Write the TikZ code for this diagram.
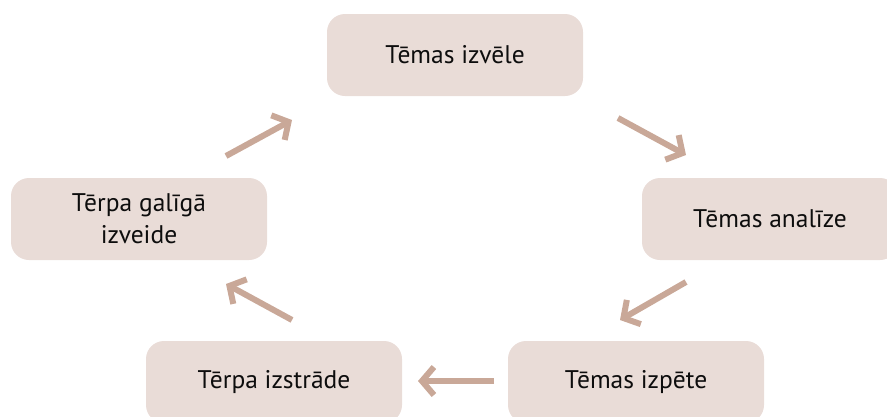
\documentclass[tikz,border=0pt]{standalone}
\usepackage{fontspec}
\setmainfont{PT Sans}
\usetikzlibrary{arrows.meta}
\definecolor{boxfill}{HTML}{E9DCD7}
\definecolor{arrowcol}{HTML}{C9A898}
\tikzset{%
  stage/.style={fill=boxfill, rounded corners=18pt, minimum width=256pt,
                minimum height=82pt, align=center, text=black!95,
                font=\fontsize{25.5}{32}\selectfont},
  flow/.style={draw=arrowcol, line width=6pt,
               -{Straight Barb[length=12pt,width=28pt]}},
}

\begin{document}
\begin{tikzpicture}[x=1pt,y=-1pt]
              \useasboundingbox (0,0) rectangle (887,416);
              \node[stage] (izvele)   at (455,55)  {Tēmas izvēle};
              \node[stage] (analize)  at (770,219) {Tēmas analīze};
              \node[stage] (izpete)   at (636,382) {Tēmas izpēte};
              \node[stage] (izstrade) at (274,382) {Tērpa izstrāde};
              \node[stage] (izveide)  at (139,219) {Tērpa galīgā\\izveide};
              \coordinate (a1) at (618,118);
              \coordinate (b1) at (686,155);
              \coordinate (a2) at (686,282);
              \coordinate (b2) at (620,320);
              \coordinate (a3) at (494,381);
              \coordinate (b3) at (418,381);
              \coordinate (a4) at (292,320);
              \coordinate (b4) at (226,284);
              \coordinate (a5) at (226,156);
              \coordinate (b5) at (292,120);
              \draw[flow] (a1) -- (b1);
              \draw[flow] (a2) -- (b2);
              \draw[flow] (a3) -- (b3);
              \draw[flow] (a4) -- (b4);
              \draw[flow] (a5) -- (b5);
          \end{tikzpicture}
\end{document}
